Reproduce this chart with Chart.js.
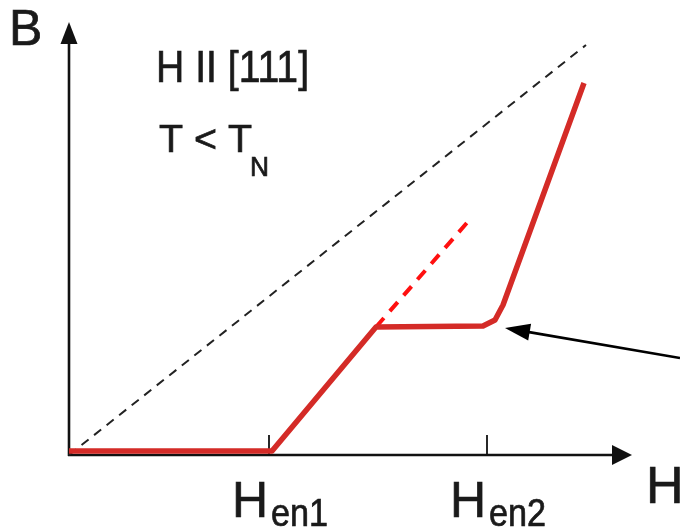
<!DOCTYPE html>
<html>
<head>
<meta charset="utf-8">
<script src="https://cdn.jsdelivr.net/npm/chart.js@4"></script>
<style>
  html, body { margin: 0; background: #fff; }
  #wrap { width: 680px; height: 529px; }
</style>
</head>
<body>
<div id="wrap"><canvas id="c"></canvas></div>
<script>
// B(H) sketch for H || [111], T < TN
const magX = [0, 2.03, 3.07, 4.14, 4.26, 4.34, 5.15];
const magY = [0.04, 0.04, 1.28, 1.29, 1.35, 1.50, 3.72];
const extX = [3.07, 4.03];          // red dashed continuation
const extY = [1.28, 2.38];
const diagX = [0, 5.17];            // B = H reference line
const diagY = [0, 4.10];
const tickVals = [2.0, 4.18];
const tickNames = [["H", "en1"], ["H", "en2"]];
const pointerX = [6.11, 4.36];      // arrow pointing at Hen2 corner
const pointerY = [0.97, 1.27];

const FONT = '"Liberation Sans", Arial, sans-serif';

function pts(xs, ys) {
  return xs.map((x, i) => ({ x: x, y: ys[i] }));
}

function arrow(ctx, x0, y0, x1, y1, len, half, lw) {
  const a = Math.atan2(y1 - y0, x1 - x0);
  const bx = x1 - len * Math.cos(a), by = y1 - len * Math.sin(a);
  ctx.lineWidth = lw;
  ctx.beginPath();
  ctx.moveTo(x0, y0);
  ctx.lineTo(bx + 2 * Math.cos(a), by + 2 * Math.sin(a));
  ctx.stroke();
  ctx.beginPath();
  ctx.moveTo(x1, y1);
  ctx.lineTo(bx - half * Math.sin(a), by + half * Math.cos(a));
  ctx.lineTo(bx + half * Math.sin(a), by - half * Math.cos(a));
  ctx.closePath();
  ctx.fill();
}

// text, optionally squeezed to a given width (the original lettering is narrow)
function text(ctx, s, x, y, size, w) {
  ctx.save();
  ctx.font = size + 'px ' + FONT;
  const sx = w ? w / ctx.measureText(s).width : 1;
  ctx.translate(x, y);
  ctx.scale(sx, 1);
  ctx.fillText(s, 0, 0);
  ctx.lineWidth = 0.7;
  ctx.strokeText(s, 0, 0);
  ctx.restore();
}

const axesPlugin = {
  id: 'axes',
  beforeDatasetsDraw(chart) {
    const ctx = chart.ctx;
    const xs = chart.scales.x, ys = chart.scales.y;
    const ox = xs.getPixelForValue(0), oy = ys.getPixelForValue(0);
    ctx.save();
    ctx.strokeStyle = '#111';
    ctx.fillStyle = '#111';
    ctx.lineCap = 'butt';
    arrow(ctx, ox, oy + 1, ox, ys.top, 22, 8.5, 2.6);
    arrow(ctx, ox - 1, oy, xs.right, oy, 20, 10, 2.6);
    ctx.lineWidth = 1.8;
    tickVals.forEach(v => {
      const px = xs.getPixelForValue(v);
      ctx.beginPath();
      ctx.moveTo(px, oy);
      ctx.lineTo(px, oy - 20);
      ctx.stroke();
    });
    ctx.restore();
  },
  afterDraw(chart) {
    const ctx = chart.ctx;
    const xs = chart.scales.x, ys = chart.scales.y;
    ctx.save();
    ctx.strokeStyle = '#000';
    ctx.fillStyle = '#000';
    arrow(ctx,
      xs.getPixelForValue(pointerX[0]), ys.getPixelForValue(pointerY[0]),
      xs.getPixelForValue(pointerX[1]), ys.getPixelForValue(pointerY[1]),
      25, 8.5, 2.6);

    ctx.fillStyle = '#1a1a1a';
    ctx.strokeStyle = '#1a1a1a';
    ctx.textBaseline = 'alphabetic';
    text(ctx, 'B', 9, 45, 50);
    text(ctx, 'H', 646, 503, 52);
    text(ctx, 'H II [111]', 156, 82, 44, 153);
    text(ctx, 'T < T', 159, 152, 38, 93);
    text(ctx, 'N', 250, 176, 27, 19);
    tickVals.forEach((v, i) => {
      const px = xs.getPixelForValue(v);
      text(ctx, tickNames[i][0], px - 37, 517, 50);
      text(ctx, tickNames[i][1], px + 2, 526, 38, 57);
    });
    ctx.restore();
  }
};

new Chart(document.getElementById('c'), {
  type: 'scatter',
  data: {
    datasets: [
      {
        label: 'B(H)',
        data: pts(magX, magY),
        showLine: true,
        borderColor: '#d42b27',
        borderWidth: 5.5,
        borderJoinStyle: 'round',
        clip: false,
        order: 0
      },
      {
        label: 'extrapolation',
        data: pts(extX, extY),
        showLine: true,
        borderColor: '#ff1010',
        borderWidth: 4,
        borderDash: [12, 9],
        clip: false,
        order: 1
      },
      {
        label: 'B = H',
        data: pts(diagX, diagY),
        showLine: true,
        borderColor: '#222',
        borderWidth: 2,
        borderDash: [9, 7],
        clip: false,
        order: 2
      }
    ]
  },
  options: {
    responsive: true,
    maintainAspectRatio: false,
    animation: false,
    layout: { padding: { left: 69, right: 48, top: 22, bottom: 74 } },
    elements: { point: { radius: 0, hoverRadius: 0 } },
    scales: {
      x: { type: 'linear', min: 0, max: 5.63, display: false },
      y: { type: 'linear', min: 0, max: 4.33, display: false }
    },
    plugins: {
      legend: { display: false },
      tooltip: { enabled: false }
    }
  },
  plugins: [axesPlugin]
});
</script>
</body>
</html>
